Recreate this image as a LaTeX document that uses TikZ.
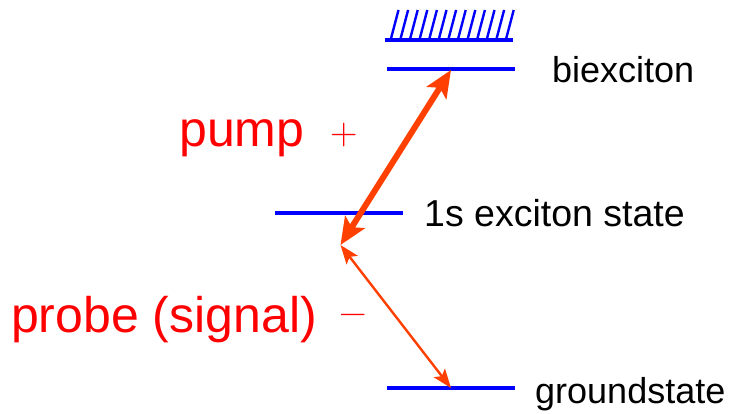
\documentclass[tikz,border=0pt]{standalone}
\usepackage{fontspec}
\setmainfont{Liberation Sans}
\newfontfamily\signfont{Latin Modern Roman}
\usetikzlibrary{arrows.meta}
\definecolor{lvlblue}{RGB}{0,0,255}
\definecolor{arrred}{RGB}{255,64,0}
\definecolor{txtred}{RGB}{255,0,0}
\tikzset{
  level/.style={draw=lvlblue, line width=3.4pt},
  hatchline/.style={draw=lvlblue, line width=2.4pt},
  blacklabel/.style={anchor=base west, inner sep=0pt, font=\fontsize{36}{40}\selectfont},
  redlabel/.style={anchor=base west, inner sep=0pt, text=txtred, font=\fontsize{50}{56}\selectfont},
  signlabel/.style={inner sep=0pt, text=txtred, font=\signfont\fontsize{38}{40}\selectfont},
  thickarr/.style={draw=arrred, line width=6pt, {Stealth[length=27pt,width=23pt,inset=6pt]}-{Stealth[length=27pt,width=23pt,inset=6pt]}},
  thinarr/.style={draw=arrred, line width=2.4pt, {Stealth[length=19pt,width=14pt,inset=4pt]}-{Stealth[length=19pt,width=14pt,inset=4pt]}},
}
\begin{document}
\begin{tikzpicture}[x=1pt,y=-1pt]
\useasboundingbox (0,0) rectangle (731,414);
% levels
\coordinate (hbL) at (385,40);
\coordinate (hbR) at (513,40);
\coordinate (bxL) at (387,69);
\coordinate (bxR) at (515,69);
\coordinate (exL) at (275,213);
\coordinate (exR) at (403,213);
\coordinate (gsL) at (387,388);
\coordinate (gsR) at (515,388);
\draw[level] (hbL) -- (hbR);
\foreach \i in {0,...,12}{
  \draw[hatchline] ({391+9.6*\i},38.5) -- ({398.5+9.6*\i},10);
}
\draw[level] (bxL) -- (bxR);
\draw[level] (exL) -- (exR);
\draw[level] (gsL) -- (gsR);
% arrow end points
\coordinate (bxA) at (451,70);
\coordinate (midA) at (340.5,245);
\coordinate (gsA) at (451,388);
\draw[thickarr] (midA) -- (bxA);
\draw[thinarr] (midA) -- (gsA);
% labels
\node[blacklabel] (lbx) at (552,83) {biexciton};
\node[blacklabel, font=\fontsize{37.5}{40}\selectfont] (lex) at (424,227) {1s exciton state};
\node[blacklabel] (lgs) at (535,403) {groundstate};
\node[redlabel] (lpump) at (179,147) {pump};
\node[redlabel] (lprobe) at (11,332) {probe (signal)};
\node[signlabel] (lplus) at (344.5,135.5) {+};
\node[signlabel] (lminus) at (353,319.5) {−};
\end{tikzpicture}
\end{document}
